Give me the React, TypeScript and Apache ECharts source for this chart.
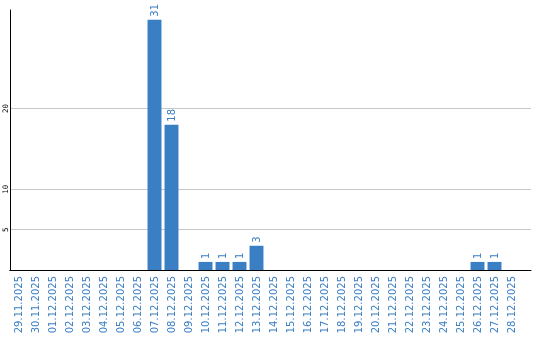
import React, { useEffect, useRef } from "react";
import * as echarts from "echarts";

const categories = [
  "29.11.2025", "30.11.2025", "01.12.2025", "02.12.2025", "03.12.2025", "04.12.2025",
  "05.12.2025", "06.12.2025", "07.12.2025", "08.12.2025", "09.12.2025", "10.12.2025",
  "11.12.2025", "12.12.2025", "13.12.2025", "14.12.2025", "15.12.2025", "16.12.2025",
  "17.12.2025", "18.12.2025", "19.12.2025", "20.12.2025", "21.12.2025", "22.12.2025",
  "23.12.2025", "24.12.2025", "25.12.2025", "26.12.2025", "27.12.2025", "28.12.2025",
];
const values = [0, 0, 0, 0, 0, 0, 0, 0, 31, 18, 0, 1, 1, 1, 3, 0, 0, 0, 0, 0, 0, 0, 0, 0, 0, 0, 0, 1, 1, 0];
const yLabelValues = [5, 10, 20];

const BLUE = "#3a7ec4";
const GRID_COLOR = "#c8c8c8";
const Y_MAX = 32.2;
const Y_STEP = 5;

export default function App() {
  const ref = useRef<HTMLDivElement>(null);
  useEffect(() => {
    if (!ref.current) return;
    const chart = echarts.init(ref.current, undefined, { renderer: "svg" });
    const splitColors: string[] = [];
    for (let v = 0; v <= Y_MAX; v += Y_STEP) {
      splitColors.push(yLabelValues.includes(v) ? GRID_COLOR : "rgba(0,0,0,0)");
    }
    chart.setOption({
      animation: false,
      grid: [
        { left: 10, right: 20, top: 10, bottom: 70, outerBoundsMode: "none" },
        { left: 10, right: 9, top: 10, bottom: 70, outerBoundsMode: "none" },
      ],
      xAxis: [
        {
          type: "category",
          gridIndex: 0,
          data: categories,
          axisLine: { show: true, lineStyle: { color: "#000", width: 1 } },
          axisTick: { show: false },
          axisLabel: {
            interval: 0,
            rotate: 90,
            color: BLUE,
            fontFamily: "DejaVu Sans",
            fontSize: 10,
            margin: 6,
          },
        },
        {
          type: "value",
          gridIndex: 1,
          min: 0,
          max: 1,
          axisLine: { show: true, lineStyle: { color: "#000", width: 1 } },
          axisTick: { show: false },
          axisLabel: { show: false },
          splitLine: { show: false },
        },
      ],
      yAxis: [
        {
          type: "value",
          gridIndex: 0,
          min: 0,
          max: Y_MAX,
          show: false,
          splitLine: { show: false },
        },
        {
          type: "value",
          gridIndex: 1,
          min: 0,
          max: Y_MAX,
          interval: Y_STEP,
          axisLine: { show: true, lineStyle: { color: "#000", width: 1 } },
          axisTick: { show: false },
          splitLine: { show: true, lineStyle: { color: splitColors, width: 1 } },
          axisLabel: {
            rotate: 90,
            color: "#000",
            fontFamily: "DejaVu Sans Mono",
            fontSize: 7.5,
            margin: 1,
            hideOverlap: false,
            showMinLabel: false,
            showMaxLabel: false,
            formatter: (v: number) => (yLabelValues.includes(v) ? String(v) : ""),
          },
        },
      ],
      series: [
        {
          type: "bar",
          xAxisIndex: 0,
          yAxisIndex: 0,
          data: values,
          barCategoryGap: "18%",
          itemStyle: { color: BLUE },
          label: {
            show: true,
            position: "top",
            rotate: 90,
            align: "left",
            verticalAlign: "middle",
            distance: 3,
            color: BLUE,
            fontFamily: "DejaVu Sans",
            fontSize: 10,
            formatter: (p: any) => (p.value ? String(p.value) : ""),
          },
          z: 3,
        },
      ],
    });
    return () => chart.dispose();
  }, []);
  return (
    <div
      ref={ref}
      style={{ position: "fixed", left: 0, top: 0, width: 540, height: 340 }}
    />
  );
}
